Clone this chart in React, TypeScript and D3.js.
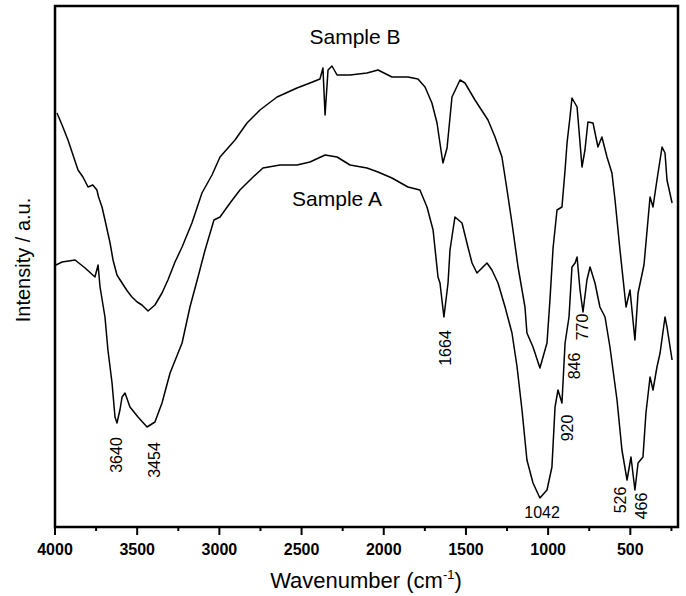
import React from "react";
import * as d3 from "d3";

// spectra: wavenumber (cm-1) and intensity (a.u.)
const waveB = [3988, 3957, 3921, 3860, 3830, 3799, 3770, 3745, 3735, 3714, 3696, 3665, 3647, 3623, 3592, 3560, 3532, 3500, 3471, 3434, 3392, 3349, 3313, 3270, 3227, 3167, 3106, 3045, 2996, 2905, 2832, 2753, 2649, 2528, 2449, 2388, 2370, 2357, 2339, 2315, 2284, 2205, 2102, 2035, 1950, 1853, 1792, 1749, 1707, 1676, 1652, 1640, 1615, 1585, 1536, 1506, 1445, 1366, 1323, 1281, 1250, 1220, 1183, 1141, 1129, 1092, 1050, 1007, 989, 970, 946, 916, 897, 885, 867, 855, 824, 806, 794, 776, 758, 727, 697, 673, 642, 612, 593, 563, 526, 502, 472, 453, 417, 380, 362, 338, 307, 289, 277, 246];
const intB = [414, 402, 387, 357, 350, 340, 342, 337, 330, 320, 307, 284, 267, 252, 244, 236, 230, 225, 222, 216, 222, 234, 247, 265, 280, 304, 334, 352, 370, 387, 404, 417, 430, 439, 444, 448, 459, 412, 457, 461, 452, 452, 454, 457, 450, 450, 448, 440, 424, 404, 377, 364, 379, 430, 447, 444, 427, 407, 390, 370, 337, 304, 260, 220, 194, 180, 159, 184, 227, 279, 317, 320, 357, 384, 410, 429, 420, 384, 360, 377, 405, 404, 380, 390, 370, 354, 327, 277, 220, 237, 187, 234, 262, 330, 320, 347, 380, 374, 347, 324];

const waveA = [3994, 3957, 3878, 3817, 3757, 3738, 3726, 3696, 3678, 3653, 3635, 3623, 3605, 3592, 3574, 3544, 3495, 3440, 3392, 3349, 3300, 3227, 3179, 3130, 3087, 3033, 2996, 2935, 2875, 2795, 2735, 2631, 2528, 2449, 2357, 2284, 2205, 2102, 2035, 1950, 1853, 1780, 1737, 1700, 1670, 1658, 1634, 1609, 1597, 1567, 1524, 1488, 1463, 1433, 1372, 1342, 1305, 1262, 1220, 1189, 1159, 1129, 1092, 1050, 1007, 977, 958, 940, 916, 897, 873, 855, 836, 824, 806, 788, 764, 745, 715, 685, 654, 624, 581, 551, 520, 496, 472, 453, 423, 405, 380, 362, 338, 319, 289, 277, 246];
const intA = [262, 265, 267, 259, 250, 262, 240, 210, 177, 144, 110, 104, 117, 130, 134, 120, 110, 100, 105, 124, 154, 184, 220, 250, 277, 307, 310, 324, 337, 350, 359, 362, 362, 365, 372, 370, 362, 359, 355, 349, 340, 337, 320, 297, 250, 244, 210, 244, 277, 310, 304, 280, 264, 254, 264, 257, 244, 220, 194, 160, 117, 67, 44, 29, 37, 60, 120, 137, 124, 184, 210, 260, 264, 270, 237, 215, 247, 260, 244, 220, 210, 180, 127, 77, 47, 70, 37, 64, 70, 114, 150, 137, 160, 174, 210, 200, 167];

// peak annotations: text, where it sits (wavenumber, a.u.)
const peakText = ["3640", "3454", "1664", "920", "846", "770", "526", "466"];
const peakWave = [3623, 3392, 1627, 885, 837, 788, 557, 435];
const peakInt = [72, 67, 179, 99, 161, 200, 27, 21];

const xMajor = [4000, 3500, 3000, 2500, 2000, 1500, 1000, 500];
const xMinor = [3750, 3250, 2750, 2250, 1750, 1250, 750, 250];

const font = "'Liberation Sans', Arial, Helvetica, sans-serif";

export default function App() {
  const width = 686;
  const height = 596;
  const left = 55, right = 678, top = 6, bottom = 527;

  const x = d3.scaleLinear().domain([4000, 210]).range([left, right]);
  const y = d3.scaleLinear().domain([0, 521]).range([bottom, top]);

  const line = d3
    .line<[number, number]>()
    .x((d) => x(d[0]))
    .y((d) => y(d[1]));

  const ptsB = waveB.map((w, i) => [w, intB[i]] as [number, number]);
  const ptsA = waveA.map((w, i) => [w, intA[i]] as [number, number]);

  return (
    <svg
      width={width}
      height={height}
      style={{ position: "absolute", left: 0, top: 0, background: "#fff" }}
      fontFamily={font}
    >
      <path d={line(ptsB) || ""} fill="none" stroke="#000" strokeWidth={1.5} strokeLinejoin="round" />
      <path d={line(ptsA) || ""} fill="none" stroke="#000" strokeWidth={1.5} strokeLinejoin="round" />

      {/* frame */}
      <rect x={left} y={top} width={right - left} height={bottom - top} fill="none" stroke="#000" strokeWidth={2.5} />

      {xMajor.map((t) => (
        <g key={t}>
          <line x1={x(t)} x2={x(t)} y1={bottom} y2={bottom + 8} stroke="#000" strokeWidth={2} />
          <text x={x(t)} y={555} textAnchor="middle" fontSize={16} fontWeight="bold">
            {t}
          </text>
        </g>
      ))}
      {xMinor.map((t) => (
        <line key={t} x1={x(t)} x2={x(t)} y1={bottom} y2={bottom + 4} stroke="#000" strokeWidth={2} />
      ))}

      <text x={355} y={44} textAnchor="middle" fontSize={21}>Sample B</text>
      <text x={337} y={206} textAnchor="middle" fontSize={21}>Sample A</text>

      {peakText.map((t, i) => (
        <text
          key={t}
          transform={`translate(${x(peakWave[i])},${y(peakInt[i])}) rotate(-90)`}
          textAnchor="middle"
          dominantBaseline="central"
          fontSize={16}
        >
          {t}
        </text>
      ))}
      <text x={x(1037)} y={y(9)} textAnchor="middle" fontSize={16}>1042</text>

      <text transform="translate(30,260) rotate(-90)" textAnchor="middle" fontSize={20}>
        Intensity / a.u.
      </text>
      <text x={366} y={588} textAnchor="middle" fontSize={22}>
        Wavenumber (cm
        <tspan fontSize={13} dy={-9}>-1</tspan>
        <tspan dy={9}>)</tspan>
      </text>
    </svg>
  );
}
